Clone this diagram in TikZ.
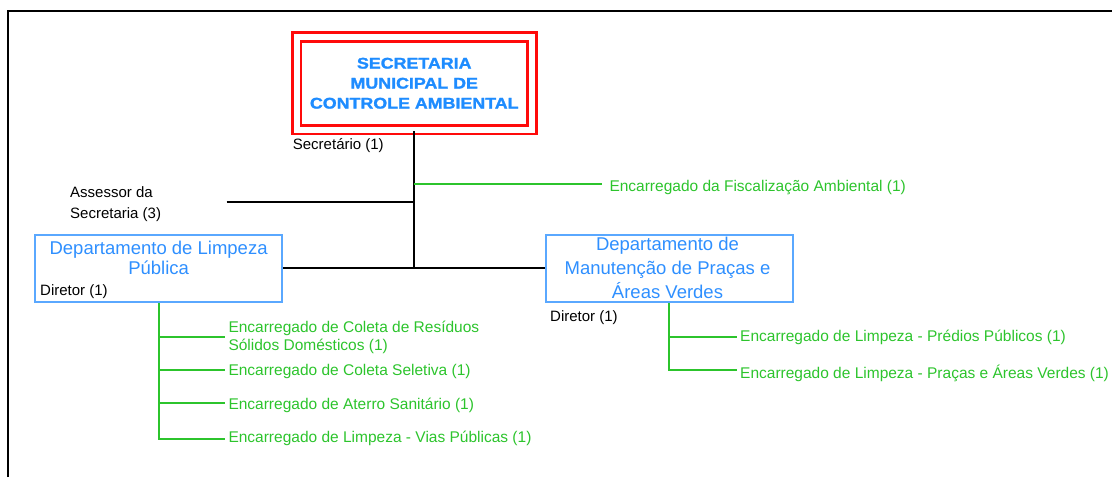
\documentclass[tikz,border=0pt]{standalone}
\usepackage{fontspec}
\setmainfont{Liberation Sans}
\newfontfamily\titlefont[FakeStretch=1.15,FakeBold=1.6]{Liberation Sans}
\definecolor{secred}{HTML}{FF0A0A}
\definecolor{titleblue}{HTML}{1E8CFF}
\definecolor{deptblue}{HTML}{2E8FFF}
\definecolor{deptline}{HTML}{5AA8FF}
\definecolor{grncol}{HTML}{2CC42C}
\begin{document}
\begin{tikzpicture}[x=1pt,y=-1pt,
  titlebox/.style={draw=secred, double=white, double distance=6pt, line width=2.6pt,
    minimum width=235.5pt, minimum height=92.5pt, inner sep=0pt, align=center,
    font=\titlefont\bfseries\fontsize{15.5}{20}\selectfont, text=titleblue},
  deptbox/.style={draw=deptline, line width=1.8pt, inner sep=0pt,
    minimum width=247pt, minimum height=67.4pt},
  depttext/.style={text=deptblue, align=center, inner sep=0pt, anchor=base},
  blk/.style={text=black, inner sep=0pt, align=left, anchor=base west,
    font=\fontsize{15}{21}\selectfont},
  grn/.style={text=grncol, inner xsep=3.3pt, inner ysep=0pt, align=left, anchor=base west,
    font=\fontsize{15.5}{18}\selectfont},
  blkline/.style={draw=black, line width=2pt},
  grnline/.style={draw=grncol, line width=1.8pt},
  frameline/.style={draw=black, line width=1.5pt}
]
\useasboundingbox (0,0) rectangle (1112,477);
% frame
\draw[frameline] (8,477) -- (8,11) -- (1112,11);

% top box
\node[titlebox] (sec) at (414.25,83.25) {SECRETARIA\\MUNICIPAL DE\\CONTROLE AMBIENTAL};
\node[blk] (secr) at (292.7,149) {Secretário (1)};

% departments
\node[deptbox] (dlp) at (158.6,268.3) {};
\node[depttext, font=\fontsize{18.5}{20.3}\selectfont] (dlpt) at (158.6,274.3) {Departamento de Limpeza\\Pública};
\node[blk] (dlpd) at (40,295) {Diretor (1)};

\node[deptbox] (dmp) at (669.2,268.3) {};
\node[depttext, font=\fontsize{18.5}{23.8}\selectfont] (dmpt) at (667.5,298) {Departamento de\\Manutenção de Praças e\\Áreas Verdes};
\node[blk] (dmpd) at (550,321.7) {Diretor (1)};

% assessor
\node[blk] (ass) at (70,218.3) {Assessor da\\Secretaria (3)};
\coordinate (asl) at (226.7,201.7);

% green leaves
\node[grn, inner xsep=7.6pt] (fisc) at (601.7,191) {Encarregado da Fiscalização Ambiental (1)};
\node[grn] (e1) at (225,350.7) {Encarregado de Coleta de Resíduos\\Sólidos Domésticos (1)};
\node[grn] (e2) at (225,375) {Encarregado de Coleta Seletiva (1)};
\node[grn] (e3) at (225,409) {Encarregado de Aterro Sanitário (1)};
\node[grn] (e4) at (225,442.7) {Encarregado de Limpeza - Vias Públicas (1)};
\node[grn] (r1) at (736.7,341) {Encarregado de Limpeza - Prédios Públicos (1)};
\node[grn] (r2) at (736.7,378) {Encarregado de Limpeza - Praças e Áreas Verdes (1)};

% black connectors
\coordinate (tb) at (sec.south |- dlp.east);
\draw[blkline] (sec.south) -- (tb);
\draw[blkline] (dlp.east) -- (dlp.east -| dmp.west);
\draw[blkline] (asl) -- (asl -| sec.south);

% green connectors
\coordinate (fb) at (414.25,184.3);
\draw[grnline] (fb) -- (fb -| fisc.west);

\coordinate (lb1) at (158.6,336.7);
\coordinate (lb2) at (158.6,370);
\coordinate (lb3) at (158.6,403.3);
\coordinate (lb4) at (158.6,439);
\draw[grnline] (dlp.south) -- (lb4) -- (lb4 -| e4.west);
\draw[grnline] (lb1) -- (lb1 -| e1.west);
\draw[grnline] (lb2) -- (lb2 -| e2.west);
\draw[grnline] (lb3) -- (lb3 -| e3.west);

\coordinate (rb1) at (669.2,336.7);
\coordinate (rb2) at (669.2,370);
\draw[grnline] (dmp.south) -- (rb2) -- (rb2 -| r2.west);
\draw[grnline] (rb1) -- (rb1 -| r1.west);
\end{tikzpicture}
\end{document}
